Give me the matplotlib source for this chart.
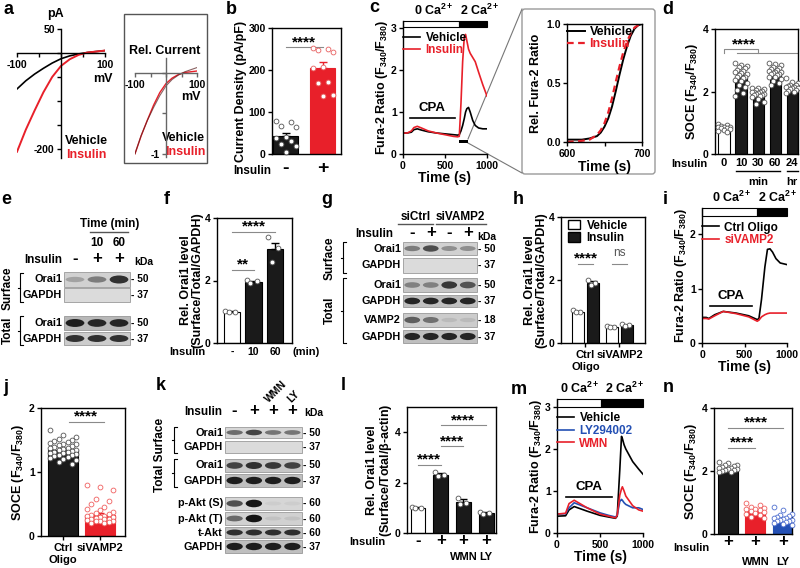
import numpy as np
import matplotlib
matplotlib.use('Agg')
import matplotlib.pyplot as plt
from matplotlib.patches import Rectangle, Ellipse, FancyBboxPatch, Patch
from matplotlib.lines import Line2D

plt.rcParams.update({
    'font.family': ['Liberation Sans', 'DejaVu Sans'],
    'font.weight': 'bold',
    'axes.labelweight': 'bold',
    'axes.linewidth': 1.0,
    'xtick.major.width': 1.0, 'ytick.major.width': 1.0,
    'xtick.major.size': 3, 'ytick.major.size': 3,
    'xtick.labelsize': 7.5, 'ytick.labelsize': 7.5,
    'xtick.major.pad': 2, 'ytick.major.pad': 1.5,
    'axes.labelsize': 9,
    'mathtext.fontset': 'custom',
    'mathtext.rm': 'Liberation Sans:bold',
    'mathtext.it': 'Liberation Sans:bold',
    'mathtext.bf': 'Liberation Sans:bold',
    'mathtext.default': 'rm',
})

RED = '#e8202a'
BLUE = '#2450b4'
SIGC = '#8a8a8a'

# ---------------- data ----------------
# a: I-V curves
iv_mv = [-100, -80, -60, -40, -20, 0, 20, 40, 60, 80, 100]
iv_vehicle = [-75, -58, -44, -32, -21, -12, -6, -2, 1, 3, 5]
iv_insulin = [-206, -160, -120, -82, -50, -27, -13, -4, 1, 3, 5]

# b: current density
b_mean = [42, 205]
b_sem = [9, 14]
b_vehicle = [78, 77, 67, 64, 40, 38, 30, 24, 18, 4]
b_insulin = [252, 251, 248, 244, 206, 204, 171, 168, 141, 137]

# c: Fura-2 traces
c_t = [0, 50, 100, 130, 170, 220, 300, 400, 500, 600, 650, 670, 690, 710, 730, 745,
       760, 780, 800, 830, 860, 900, 950, 1000]
c_vehicle = [0.5, 0.5, 0.52, 0.58, 0.6, 0.57, 0.53, 0.5, 0.48, 0.46, 0.45, 0.46, 0.55,
             0.68, 0.85, 1.0, 1.08, 1.11, 1.0, 0.8, 0.68, 0.62, 0.6, 0.6]
c_insulin = [0.5, 0.5, 0.55, 0.63, 0.66, 0.62, 0.55, 0.5, 0.46, 0.42, 0.41, 0.42, 1.2,
             2.2, 2.8, 2.85, 2.7, 2.5, 2.4, 2.3, 2.2, 1.95, 1.65, 1.38]
# c inset: normalised rise
cz_t = [600, 620, 630, 640, 645, 650, 655, 660, 665, 670, 675, 680, 685, 690, 695, 700]
cz_vehicle = [0.02, 0.02, 0.03, 0.05, 0.08, 0.13, 0.2, 0.3, 0.43, 0.57, 0.7, 0.81, 0.9, 0.96, 0.99, 1.0]
cz_insulin = [0.0, 0.01, 0.02, 0.06, 0.1, 0.16, 0.25, 0.37, 0.51, 0.64, 0.76, 0.85, 0.92, 0.97, 0.99, 1.0]

# d: SOCE vs insulin time
d_labels = ['0', '10', '30', '60', '24']
d_mean = [0.85, 2.48, 1.95, 2.6, 2.15]
d_sem = [0.03, 0.06, 0.04, 0.04, 0.03]
d_pts = [
    [0.95, 0.93, 0.9, 0.88, 0.87, 0.85, 0.84, 0.82, 0.8, 0.78, 0.74, 0.7],
    [2.92, 2.86, 2.82, 2.78, 2.74, 2.7, 2.66, 2.62, 2.58, 2.55, 2.52, 2.48, 2.45, 2.42,
     2.38, 2.33, 2.28, 2.22, 2.15, 2.05, 1.95, 1.85],
    [2.12, 2.1, 2.07, 2.05, 2.03, 2.0, 1.98, 1.97, 1.95, 1.93, 1.92, 1.9, 1.88, 1.85,
     1.82, 1.75, 1.68, 1.6],
    [2.92, 2.88, 2.85, 2.8, 2.76, 2.72, 2.7, 2.67, 2.64, 2.62, 2.6, 2.57, 2.55, 2.52,
     2.48, 2.45, 2.4, 2.35, 2.28, 2.22],
    [2.42, 2.3, 2.26, 2.22, 2.2, 2.18, 2.16, 2.14, 2.12, 2.1, 2.08, 2.05, 2.02, 1.98, 1.95],
]

# e: blot (band darkness per lane)
e_names = ['Orai1', 'GAPDH', 'Orai1', 'GAPDH']
e_kda = ['50', '37', '50', '37']
e_bands = [[0.25, 0.45, 0.85], [0, 0, 0], [0.95, 0.9, 0.9], [0.85, 0.85, 0.85]]

# f
f_labels = ['-', '10', '60']
f_mean = [1.0, 1.95, 3.0]
f_sem = [0.02, 0.03, 0.2]
f_pts = [[1.02, 1.0, 0.98], [2.02, 1.97, 1.93], [3.4, 3.05, 2.6]]

# g: blot
g_names = ['Orai1', 'GAPDH', 'Orai1', 'GAPDH', 'VAMP2', 'GAPDH']
g_kda = ['50', '37', '50', '37', '18', '37']
g_bands = [[0.45, 0.7, 0.35, 0.35], [0, 0, 0, 0], [0.4, 0.4, 0.8, 0.65],
           [0.9, 0.9, 0.9, 0.9], [0.6, 0.5, 0.1, 0.1], [0.9, 0.9, 0.9, 0.9]]

# h
h_groups = ['Ctrl\nOligo', 'siVAMP2']
h_vehicle = [1.0, 0.52]
h_insulin = [1.92, 0.56]
h_veh_pts = [[1.05, 1.0, 0.97], [0.55, 0.52, 0.5]]
h_ins_pts = [[2.0, 1.92, 1.85], [0.6, 0.56, 0.53]]

# i: Fura-2 traces
i_t = [0, 50, 80, 150, 250, 400, 550, 650, 670, 700, 740, 770, 800, 830, 870, 920, 1000]
i_ctrl = [0.47, 0.47, 0.45, 0.52, 0.58, 0.55, 0.5, 0.43, 0.45, 0.8, 1.4, 1.72, 1.73,
          1.67, 1.55, 1.47, 1.44]
i_sivamp2 = [0.45, 0.45, 0.44, 0.5, 0.58, 0.54, 0.48, 0.4, 0.42, 0.48, 0.52, 0.54,
             0.55, 0.55, 0.55, 0.55, 0.55]

# j
j_mean = [1.35, 0.33]
j_sem = [0.02, 0.03]
j_ctrl = [1.65, 1.58, 1.55, 1.52, 1.5, 1.48, 1.47, 1.45, 1.44, 1.43, 1.42, 1.4, 1.39,
          1.38, 1.37, 1.36, 1.35, 1.34, 1.33, 1.32, 1.31, 1.3, 1.29, 1.28, 1.27, 1.26,
          1.25, 1.24, 1.22, 1.2, 1.18, 1.15, 1.12]
j_sivamp2 = [0.8, 0.77, 0.72, 0.58, 0.55, 0.5, 0.45, 0.42, 0.4, 0.38, 0.36, 0.35, 0.33,
             0.32, 0.31, 0.3, 0.29, 0.28, 0.27, 0.26, 0.26, 0.25, 0.24, 0.24, 0.23,
             0.22, 0.21, 0.2]

# k: blot
k_names = ['Orai1', 'GAPDH', 'Orai1', 'GAPDH', 'p-Akt (S)', 'p-Akt (T)', 't-Akt', 'GAPDH']
k_kda = ['50', '37', '50', '37', '60', '60', '60', '37']
k_bands = [[0.55, 0.75, 0.5, 0.5], [0, 0, 0, 0], [0.75, 0.85, 0.8, 0.75],
           [0.95, 0.95, 0.95, 0.95], [0.7, 1.0, 0.05, 0.05], [0.55, 1.0, 0.08, 0.08],
           [0.85, 0.85, 0.85, 0.85], [0.95, 0.95, 0.95, 0.95]]

# l
l_mean = [1.0, 2.32, 1.25, 0.8]
l_sem = [0.02, 0.05, 0.08, 0.03]
l_pts = [[1.02, 1.0, 0.98], [2.42, 2.32, 2.28], [1.4, 1.2, 1.15], [0.85, 0.8, 0.76]]

# m: Fura-2 traces
m_t = [0, 100, 140, 200, 350, 500, 600, 680, 700, 730, 750, 760, 780, 800, 880, 950, 1000]
m_vehicle = [0.4, 0.41, 0.55, 0.63, 0.52, 0.42, 0.38, 0.35, 0.4, 1.5, 2.3, 2.25, 2.1,
             2.0, 1.7, 1.52, 1.4]
m_ly = [0.45, 0.46, 0.6, 0.72, 0.6, 0.48, 0.42, 0.38, 0.42, 0.75, 0.8, 0.78, 0.72,
        0.68, 0.6, 0.6, 0.56]
m_wmn = [0.45, 0.47, 0.7, 0.78, 0.6, 0.45, 0.4, 0.36, 0.42, 0.9, 1.05, 1.1, 1.0, 0.88,
         0.65, 0.55, 0.52]

# n
n_mean = [2.05, 0.72, 0.5]
n_sem = [0.03, 0.04, 0.04]
n_black = [2.3, 2.25, 2.2, 2.18, 2.15, 2.12, 2.1, 2.08, 2.07, 2.05, 2.04, 2.02, 2.0, 1.98, 1.96]
n_red = [1.0, 0.92, 0.85, 0.82, 0.8, 0.78, 0.75, 0.72, 0.7, 0.68, 0.65, 0.6, 0.55, 0.5]
n_blue = [0.85, 0.75, 0.65, 0.6, 0.58, 0.55, 0.52, 0.5, 0.48, 0.46, 0.45, 0.42, 0.4,
          0.38, 0.35, 0.32, 0.3]

# ---------------- figure ----------------
W, H = 800, 568
fig = plt.figure(figsize=(W / 100, H / 100), dpi=100)

ov = fig.add_axes([0, 0, 1, 1], zorder=-1)
ov.set_xlim(0, W)
ov.set_ylim(H, 0)
ov.axis('off')


def px_axes(x0, y0, x1, y1):
    a = fig.add_axes([x0 / W, 1 - y1 / H, (x1 - x0) / W, (y1 - y0) / H])
    a.patch.set_alpha(0)
    return a


def t(x, y, s, size=7.5, ha='center', va='center', **kw):
    ov.text(x, y, s, fontsize=size, ha=ha, va=va, fontweight='bold', **kw)


def bars(ax, xs, means, sems, fcs, ecs, width, pts_list, dot_ecs, spread=0.4):
    ax.bar(xs, means, width=width, color=fcs, edgecolor=ecs, linewidth=0.8, zorder=2)
    for x, m, s, ec in zip(xs, means, sems, ecs):
        ax.errorbar(x, m, yerr=[[0], [s]], fmt='none', ecolor=ec, elinewidth=1,
                    capsize=3, capthick=1, zorder=3)
    for x, pts, de in zip(xs, pts_list, dot_ecs):
        k = 7 if len(pts) > 14 else 5
        half = (k - 1) / 2
        offs = ((np.arange(len(pts)) * 3 % k) - half) / half * width * spread
        ax.scatter(x + offs, pts, s=12, facecolor='white', edgecolor=de,
                   linewidths=0.6, zorder=4, clip_on=False)


def sig(ax, x0, x1, y, label, ty, **kw):
    ax.plot([x0, x1], [y, y], color=SIGC, lw=0.8, clip_on=False)
    ax.text((x0 + x1) / 2, ty, label, ha='center', va='center', fontsize=kw.get('size', 11),
            color=kw.get('color', 'black'), fontweight=kw.get('weight', 'bold'))


def trace(ax, tt, ys, cols, top, band_lo, switch, lab_x, cpa, cpa_y, yticks, labels, leg_y):
    for y, c in zip(ys, cols):
        ax.plot(tt, y, color=c, lw=1.2)
    ax.set_xlim(0, 1000)
    ax.set_ylim(0, top)
    ax.spines[['top', 'right']].set_visible(False)
    ax.set_xticks([0, 500, 1000])
    ax.set_yticks(yticks)
    ax.add_patch(Rectangle((0, band_lo), switch, top - band_lo, fc='white', ec='black',
                           lw=0.8, clip_on=False))
    ax.add_patch(Rectangle((switch, band_lo), 1000 - switch, top - band_lo, fc='black',
                           ec='black', lw=0.8, clip_on=False))
    ax.text(lab_x[0], top + 0.025 * top, '0 Ca$^{2+}$', ha='center', va='bottom', fontsize=9)
    ax.text(lab_x[1], top + 0.025 * top, '2 Ca$^{2+}$', ha='center', va='bottom', fontsize=9)
    ax.plot(cpa, [cpa_y, cpa_y], color='black', lw=1.2)
    ax.text(sum(cpa) / 2, cpa_y + 0.03 * top, 'CPA', ha='center', va='bottom', fontsize=9.5)
    ax.set_xlabel('Time (s)', fontsize=10, labelpad=0)
    ax.set_ylabel('Fura-2 Ratio (F$_{340}$/F$_{380}$)', fontsize=9, labelpad=1)
    handles = [Line2D([], [], color=c, lw=1.2) for c in cols]
    ax.legend(handles, labels, loc='upper left', bbox_to_anchor=(0.0, leg_y), frameon=False,
              fontsize=8.5, handlelength=1.4, handletextpad=0.5, labelspacing=0.05,
              borderpad=0, borderaxespad=0, labelcolor=cols)


def blot(x0, x1, rows, names, kdas, bands, bgs):
    n = len(bands[0])
    lw = (x1 - x0) / n
    for (yt, yb), name, kda, vals, bg in zip(rows, names, kdas, bands, bgs):
        ov.add_patch(Rectangle((x0, yt), x1 - x0, yb - yt, fc=str(bg), ec='#8a8a8a', lw=0.5))
        for i, v in enumerate(vals):
            if v <= 0:
                continue
            lev = bg * (1 - v) + 0.08 * v
            ov.add_patch(Ellipse((x0 + lw * (i + 0.5), (yt + yb) / 2), lw * 0.85,
                                 (yb - yt) * (0.28 + 0.3 * v), fc=str(lev), ec='none'))
        t(x0 - 2, (yt + yb) / 2, name, ha='right', size=7.8)
        t(x1 + 1, (yt + yb) / 2, '- ' + kda, ha='left', size=7.3)
    return [x0 + lw * (i + 0.5) for i in range(n)]


def bracket(x, yt, yb):
    ov.plot([x + 3, x, x, x + 3], [yt, yt, yb, yb], color='black', lw=0.8)
    ov.plot([x, x - 2], [(yt + yb) / 2] * 2, color='black', lw=0.8)


# panel letters
for lx, ly, s in [(8, 9, 'a'), (231, 9, 'b'), (374, 8, 'c'), (668, 9, 'd'),
                  (6, 200, 'e'), (167, 200, 'f'), (327, 199, 'g'), (518, 200, 'h'),
                  (665, 199, 'i'), (6, 388, 'j'), (161, 386, 'k'), (343, 386, 'l'),
                  (519, 390, 'm'), (668, 388, 'n')]:
    t(lx, ly, s, size=13)

# ---- a ----
ax = px_axes(17, 29, 105, 158)
ax.plot(iv_mv, iv_vehicle, color='black', lw=1.2)
ax.plot(iv_mv, iv_insulin, color=RED, lw=1.4)
ax.set_xlim(-100, 100)
ax.set_ylim(-219, 50)
ax.spines[['top', 'right']].set_visible(False)
ax.spines['left'].set_position(('data', 0))
ax.spines['bottom'].set_position(('data', 0))
ax.set_xticks([-100, -50, 0, 50, 100], ['-100', '', '', '', '100'])
ax.set_yticks([50, 0, -50, -100, -150, -200], ['50', '', '', '', '', '-200'])
t(55, 14, 'pA', size=9)
t(103, 79, 'mV', size=9)
t(65, 141, 'Vehicle', ha='left', size=9)
t(66, 155, 'Insulin', ha='left', size=9, color=RED)

ov.add_patch(Rectangle((124, 14), 83, 149, fill=False, ec='#555555', lw=1.0))
ax = px_axes(135, 58, 197, 157)
ax.plot(iv_mv, np.array(iv_insulin) / abs(iv_insulin[0]), color=RED, lw=1.0)
ax.plot(iv_mv, np.array(iv_vehicle) / abs(iv_vehicle[0]), color='#5a2020', lw=0.8, alpha=0.7)
ax.set_xlim(-100, 100)
ax.set_ylim(-1.04, 0.185)
ax.spines[['top', 'right']].set_visible(False)
ax.spines['left'].set_position(('data', 0))
ax.spines['bottom'].set_position(('data', 0))
for s in ['left', 'bottom']:
    ax.spines[s].set_color('#666666')
ax.tick_params(colors='#666666', labelcolor='black')
ax.set_xticks([-100, -50, 0, 50, 100], ['-100', '', '', '', '100'])
ax.set_yticks([-1, -0.5, 0], ['-1', '', ''])
t(165, 51, 'Rel. Current', size=9)
t(191, 97, 'mV', size=9)
t(205, 138, 'Vehicle', ha='right', size=9)
t(205, 152, 'Insulin', ha='right', size=9, color=RED)

# ---- b ----
ax = px_axes(272, 28, 341, 154)
bars(ax, [0, 1], b_mean, b_sem, ['#1a1a1a', RED], ['black', RED], 0.68,
     [b_vehicle, b_insulin], ['#555555', '#e86060'])
ax.set_xlim(-0.38, 1.5)
ax.set_ylim(0, 300)
ax.set_yticks([0, 100, 200, 300])
ax.set_xticks([0, 1], ['-', '+'], fontsize=14)
ax.tick_params(axis='x', length=0, pad=4)
ax.set_ylabel('Current Density (pA/pF)', labelpad=1)
sig(ax, 0, 1, 254, '****', 266)
t(271, 171, 'Insulin', ha='right', size=8.5)

# ---- c ----
ax = px_axes(403, 21, 487, 154)
trace(ax, c_t, [c_vehicle, c_insulin], ['black', RED], 3.17, 3.02, 670, [369, 917], [80, 620],
      0.86, [0, 1, 2, 3], ['Vehicle', 'Insulin'], 0.92)
ax.add_patch(Rectangle((667, 0.26), 107, 0.07, fc='black', ec='none'))
ov.plot([468, 522], [139, 9], color='#777777', lw=0.8)
ov.plot([468, 522], [143, 173], color='#777777', lw=0.8)

ov.add_patch(FancyBboxPatch((522, 9), 133, 165, boxstyle='round,pad=0,rounding_size=3',
                            fc='none', ec='#9a9a9a', lw=1.0))
ax = px_axes(567, 24, 642, 142)
ax.plot(cz_t, cz_vehicle, color='black', lw=1.4)
ax.plot(cz_t, cz_insulin, color=RED, lw=1.6, ls=(0, (3, 2)))
ax.set_xlim(600, 700)
ax.set_ylim(0, 1)
ax.set_xticks([600, 650, 700], ['600', '', '700'])
ax.set_yticks([0, 0.5, 1], ['0.0', '0.5', '1.0'])
ax.set_xlabel('Time (s)', fontsize=10, labelpad=1)
ax.set_ylabel('Rel. Fura-2 Ratio', fontsize=9, labelpad=3)
ax.legend([Line2D([], [], color='black', lw=1.4), Line2D([], [], color=RED, lw=1.6, ls=(0, (3, 2)))],
          ['Vehicle', 'Insulin'], loc='upper left', bbox_to_anchor=(0.0, 0.98), frameon=False,
          fontsize=9, handlelength=1.4, handletextpad=0.4, labelspacing=0.0, borderpad=0,
          borderaxespad=0, labelcolor=['black', RED])

# ---- d ----
ax = px_axes(715, 29, 798, 154)
dx = np.arange(len(d_mean))
bars(ax, dx, d_mean, d_sem, ['white'] + ['#1a1a1a'] * 4, ['black'] * 5, 0.65, d_pts,
     ['#555555'] * 5, spread=0.55)
ax.set_xlim(-0.53, 4.35)
ax.set_ylim(0, 4)
ax.set_yticks([0, 2, 4])
ax.set_xticks(dx, d_labels, fontsize=8)
ax.tick_params(axis='x', length=0, pad=3)
ax.set_ylabel('SOCE (F$_{340}$/F$_{380}$)', labelpad=2)
ax.plot([0, 0, 2, 2], [3.22, 3.35, 3.35, 3.24], color=SIGC, lw=0.8)
ax.plot([0.75, 4.3], [3.24, 3.24], color=SIGC, lw=0.8, clip_on=False)
ax.text(1.2, 3.5, '****', ha='center', va='center', fontsize=11)
tr = ax.get_xaxis_transform()
ax.plot([0.7, 3.3], [-0.136, -0.136], color='black', lw=1, transform=tr, clip_on=False)
ax.plot([3.7, 4.35], [-0.136, -0.136], color='black', lw=1, transform=tr, clip_on=False)
ax.text(2.0, -0.225, 'min', ha='center', va='center', fontsize=8, transform=tr)
ax.text(4.0, -0.225, 'hr', ha='center', va='center', fontsize=8, transform=tr)
t(708, 164, 'Insulin', ha='right', size=8)

# ---- e ----
e_lanes = blot(64, 130, [(272, 287), (288, 302), (316, 330), (332, 345)], e_names, e_kda,
               e_bands, [0.82, 0.86, 0.72, 0.8])
t(110, 224, 'Time (min)', size=8.5)
ov.plot([90, 128], [232, 232], color='#555555', lw=1)
t(e_lanes[1], 243, '10', size=8.5)
t(e_lanes[2], 243, '60', size=8.5)
t(62, 260, 'Insulin', ha='right', size=8.5)
for x, s in zip(e_lanes, ['-', '+', '+']):
    t(x, 259, s, size=12)
t(144, 262, 'kDa', size=7.5)
bracket(20, 273, 302)
bracket(20, 316, 345)
t(8, 288, 'Surface', size=8.5, rotation=90)
t(8, 330, 'Total', size=8.5, rotation=90)

# ---- f ----
ax = px_axes(217, 218, 292, 343)
bars(ax, [0, 1, 2], f_mean, f_sem, ['white', '#1a1a1a', '#1a1a1a'], ['black'] * 3, 0.78,
     f_pts, ['#555555'] * 3)
ax.set_xlim(-0.7, 2.79)
ax.set_ylim(0, 4)
ax.set_yticks([0, 2, 4])
ax.set_xticks([0, 1, 2], f_labels)
ax.tick_params(axis='x', length=0, pad=3)
ax.set_ylabel('Rel. Orai1 level\n(Surface/Total/GAPDH)', labelpad=1, linespacing=1.0)
sig(ax, 0, 1, 2.35, '**', 2.52)
sig(ax, 0, 2, 3.55, '****', 3.72)
t(205, 352, 'Insulin', ha='right', size=8)
t(306, 352, '(min)', size=8)

# ---- g ----
g_lanes = blot(403, 477, [(242, 255), (258, 273), (278, 292), (295, 307), (313, 327), (330, 343)],
               g_names, g_kda, g_bands, [0.82, 0.86, 0.78, 0.75, 0.8, 0.75])
t(416, 217, 'siCtrl', size=8.5)
t(460, 217, 'siVAMP2', size=8.5)
ov.plot([398, 433], [224, 224], color='#555555', lw=1)
ov.plot([436, 486], [224, 224], color='#555555', lw=1)
t(393, 234, 'Insulin', ha='right', size=8.5)
for x, s in zip(g_lanes, ['-', '+', '-', '+']):
    t(x, 233, s, size=12)
t(487, 237, 'kDa', size=7.5)
bracket(343, 242, 273)
bracket(343, 278, 343)
t(330, 258, 'Surface', size=8.5, rotation=90)
t(330, 310, 'Total', size=8.5, rotation=90)

# ---- h ----
ax = px_axes(561, 217, 645, 343)
hx = np.arange(len(h_groups))
bars(ax, hx - 0.22, h_vehicle, [0.02, 0.02], ['white', 'white'], ['black', 'black'], 0.35,
     h_veh_pts, ['#555555'] * 2)
bars(ax, hx + 0.22, h_insulin, [0.05, 0.02], ['#1a1a1a', '#1a1a1a'], ['black', 'black'], 0.35,
     h_ins_pts, ['#555555'] * 2)
ax.set_xlim(-0.72, 1.75)
ax.set_ylim(0, 4)
ax.set_yticks([0, 2, 4])
ax.set_xticks(hx, h_groups, fontsize=8)
ax.tick_params(axis='x', pad=2)
ax.set_ylabel('Rel. Orai1 level\n(Surface/Total/GAPDH)', labelpad=1, linespacing=1.0)
sig(ax, -0.22, 0.22, 2.5, '****', 2.68)
sig(ax, 0.78, 1.22, 2.5, 'ns', 2.85, color='#555555', weight='normal', size=8.5)
ax.legend([Patch(fc='white', ec='black'), Patch(fc='#1a1a1a', ec='black')], ['Vehicle', 'Insulin'],
          loc='upper left', bbox_to_anchor=(0.08, 0.98), frameon=False, fontsize=8.5,
          handlelength=1.0, handleheight=0.8, handletextpad=0.6, labelspacing=0.05,
          borderpad=0, borderaxespad=0)

# ---- i ----
ax = px_axes(702, 208, 787, 343)
trace(ax, i_t, [i_ctrl, i_sivamp2], ['black', RED], 2.48, 2.33, 650, [353, 894], [90, 585],
      0.68, [0, 1, 2], ['Ctrl Oligo', 'siVAMP2'], 0.9)

# ---- j ----
ax = px_axes(41, 408, 125, 536)
bars(ax, [0, 1], j_mean, j_sem, ['#1a1a1a', RED], ['black', RED], 0.8, [j_ctrl, j_sivamp2],
     ['#555555', '#f06060'], spread=0.45)
ax.set_xlim(-0.6, 1.68)
ax.set_ylim(0, 2)
ax.set_yticks([0, 1, 2])
ax.set_xticks([0, 1], ['Ctrl\nOligo', 'siVAMP2'], fontsize=8)
ax.tick_params(axis='x', pad=2)
ax.set_ylabel('SOCE (F$_{340}$/F$_{380}$)', labelpad=2)
sig(ax, 0.15, 1.1, 1.78, '****', 1.86)

# ---- k ----
k_lanes = blot(225, 302, [(427, 438), (441, 453), (459, 472), (474, 487), (497, 510),
                          (512, 525), (527, 538), (540, 553)],
               k_names, k_kda, k_bands, [0.84, 0.86, 0.78, 0.75, 0.84, 0.82, 0.76, 0.75])
t(222, 412, 'Insulin', ha='right', size=8.5)
for x, s in zip(k_lanes, ['-', '+', '+', '+']):
    t(x, 411, s, size=12)
t(k_lanes[2] + 3, 392, 'WMN', size=7.5, rotation=45)
t(k_lanes[3] + 1, 397, 'LY', size=7.5, rotation=45)
t(314, 413, 'kDa', size=7.5)
bracket(174, 427, 453)
bracket(174, 459, 487)
t(160, 455, 'Total Surface', size=8.5, rotation=90)

# ---- l ----
ax = px_axes(407, 407, 496, 533)
lx = np.arange(len(l_mean))
bars(ax, lx, l_mean, l_sem, ['white'] + ['#1a1a1a'] * 3, ['black'] * 4, 0.65, l_pts,
     ['#555555'] * 4)
ax.set_xlim(-0.48, 3.43)
ax.set_ylim(0, 5)
ax.set_yticks([0, 2, 4])
ax.set_xticks(lx, ['-', '+', '+', '+'], fontsize=12)
ax.tick_params(axis='x', length=0, pad=0)
ax.set_ylabel('Rel. Orai1 level\n(Surface/Total/$\\beta$-actin)', labelpad=1, linespacing=1.0)
sig(ax, 0, 1, 2.7, '****', 2.9)
sig(ax, 1, 2, 3.45, '****', 3.65)
sig(ax, 1, 3, 4.28, '****', 4.48)
t(385, 542, 'Insulin', ha='right', size=8)
ax.text(2, -0.19, 'WMN', ha='center', va='center', fontsize=8, transform=ax.get_xaxis_transform())
ax.text(3, -0.19, 'LY', ha='center', va='center', fontsize=8, transform=ax.get_xaxis_transform())

# ---- m ----
ax = px_axes(557, 399, 643, 533)
trace(ax, m_t, [m_vehicle, m_ly, m_wmn], ['black', BLUE, RED], 3.19, 3.0, 515, [267, 790],
      [110, 640], 0.85, [0, 1, 2, 3], ['Vehicle', 'LY294002', 'WMN'], 0.9)

# ---- n ----
ax = px_axes(714, 408, 792, 534)
nx = np.arange(len(n_mean))
bars(ax, nx, n_mean, n_sem, ['#1a1a1a', RED, BLUE], ['black', RED, BLUE], 0.73,
     [n_black, n_red, n_blue], ['#555555', '#f06060', '#5070d0'], spread=0.45)
ax.set_xlim(-0.51, 2.33)
ax.set_ylim(0, 4)
ax.set_yticks([0, 2, 4])
ax.set_xticks(nx, ['+', '+', '+'], fontsize=12)
ax.tick_params(axis='x', length=0, pad=0)
ax.set_ylabel('SOCE (F$_{340}$/F$_{380}$)', labelpad=2)
sig(ax, 0, 1, 2.73, '****', 2.9)
sig(ax, 0, 2, 3.37, '****', 3.55)
t(710, 548, 'Insulin', ha='right', size=8)
ax.text(1, -0.22, 'WMN', ha='center', va='center', fontsize=8, transform=ax.get_xaxis_transform())
ax.text(2, -0.22, 'LY', ha='center', va='center', fontsize=8, transform=ax.get_xaxis_transform())

fig.savefig('out.png', dpi=100)
